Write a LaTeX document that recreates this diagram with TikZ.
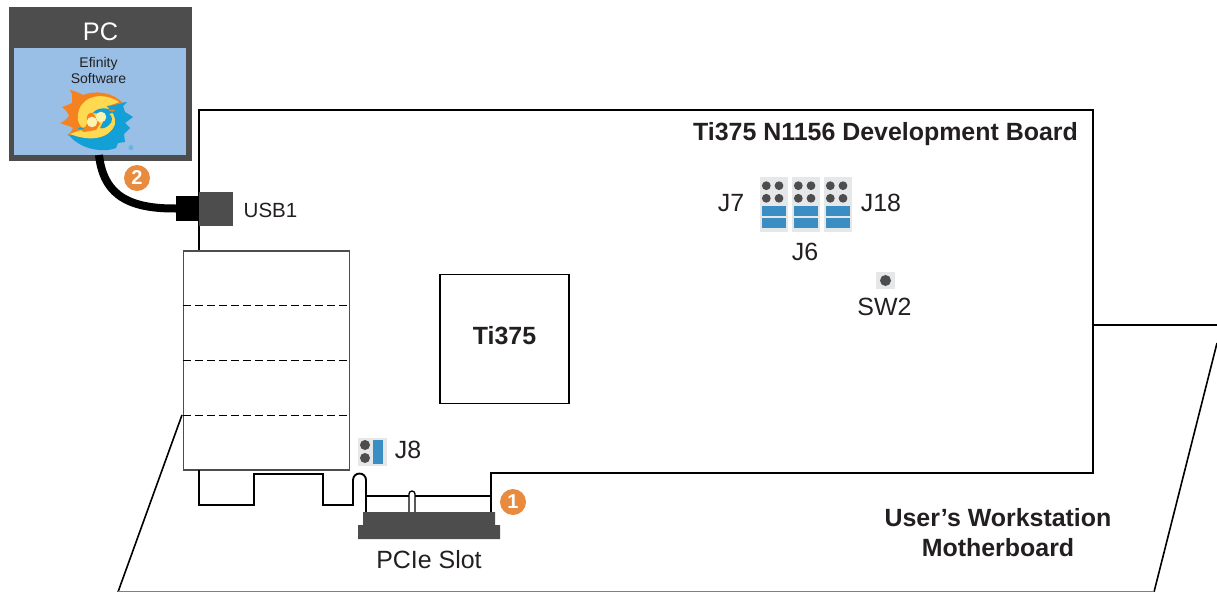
\documentclass[tikz,border=0pt]{standalone}
\usepackage{fontspec}
\setmainfont{Liberation Sans}
\definecolor{darkg}{HTML}{4D4D4D}
\definecolor{pcblue}{HTML}{99BFE6}
\definecolor{jblue}{HTML}{3A8EC4}
\definecolor{jbg}{HTML}{E6E7E8}
\definecolor{badge}{HTML}{E98B3F}
\definecolor{txt}{HTML}{231F20}
\definecolor{logoO}{HTML}{F58220}
\definecolor{logoB}{HTML}{12A0D7}
\definecolor{logoY}{HTML}{FFD94F}
\definecolor{logoP}{HTML}{FBF3B0}
\tikzset{
  x=0.75pt,y=-0.75pt,
  every node/.style={inner sep=0pt,outer sep=0pt,text=txt},
  pin/.style={circle,fill=darkg,minimum size=7.5pt},
  smallpin/.style={circle,fill=darkg,minimum size=6.6pt},
  jump/.style={fill=jblue,minimum width=18pt,minimum height=7.5pt},
  hdr/.style={fill=jbg,minimum width=21pt,minimum height=41.25pt},
  lab/.style={font=\fontsize{18.7}{20}\selectfont},
  blab/.style={font=\fontsize{18.7}{20}\selectfont\bfseries},
  num/.style={circle,fill=badge,minimum size=19.5pt,text=white,font=\fontsize{15}{15}\selectfont\bfseries},
  brd/.style={draw=black,line width=1.4pt,line join=miter},
  thin/.style={draw=black,line width=1pt},
}
\begin{document}
\begin{tikzpicture}
\useasboundingbox (0,0) rectangle (1217,592);
% motherboard
\coordinate (mbTL) at (182,415);
\coordinate (mbBL) at (118,592);
\coordinate (mbBR) at (1154,592);
\coordinate (mbTR) at (1217,343);
\coordinate (edgeA) at (1093,325);
\coordinate (edgeB) at (1217,325);
\draw[line width=1.2pt] (mbTL) -- (mbBL);
\draw[line width=1.2pt] (mbTR) -- (mbBR);
\draw[draw=gray,line width=1pt] (mbBL) -- (mbBR);
\draw[line width=1.2pt] (edgeA) -- (edgeB);
% board outline
\draw[brd] (199,252) -- (199,110) -- (1093,110) -- (1093,473) -- (491,473) -- (491,513);
% bracket
\node[draw=darkg,line width=0.8pt,fill=white,minimum width=125pt,minimum height=164.25pt] (bracket) at (266.5,360.5) {};
\draw[dash pattern=on 6pt off 3pt,line width=0.5pt] (183,305) -- (350,305) (183,360) -- (350,360) (183,415) -- (350,415);
% edge connector
\draw[brd] (199,470) -- (199,505) -- (254,505) -- (254,474) -- (323,474) -- (323,505) -- (353,505) -- (353,480) arc[start angle=180,end angle=360,radius=6.5] -- (366,513);
\draw[thin] (366,496) -- (491,496);
\draw[thin,fill=white] (409,513) -- (409,494) arc[start angle=180,end angle=360,radius=3] -- (415,513);
% slot
\fill[darkg] (363,512) -- (495,512) -- (495,525) -- (500,525) -- (500,539) -- (358,539) -- (358,525) -- (363,525) -- cycle;
\node[lab] (slot) at (429,560) {PCIe Slot};
% PC
\node[fill=darkg,minimum width=137.25pt,minimum height=115.5pt] (pc) at (100.5,84) {};
\node[fill=pcblue,minimum width=129pt,minimum height=80.25pt] (sw) at (100,101.5) {};
\node[text=white,font=\fontsize{19}{20}\selectfont] (pclab) at (100.5,31.5) {PC};
\node[align=center,font=\fontsize{10.5}{12.6}\selectfont] (swlab) at (98.5,70.5) {Efinity\\Software};
% logo
\fill[logoB] (68,134) .. controls (80,150) and (104,153) .. (116,148) -- (118,143) -- (125,142) -- (124,134) -- (130,128) -- (125,123) -- (133,117) -- (125,112) -- (123,106) -- (127,102) -- (112,104) -- (98,112) -- (92,128) -- cycle;
\fill[logoO] (123,103) .. controls (112,92) and (96,90) .. (83,95) .. controls (80,93) and (72,90) .. (70,90) .. controls (73,94) and (72,99) .. (72,103) .. controls (68,105) and (65,106) .. (62,107) .. controls (66,110) and (68,113) .. (69,116) .. controls (66,120) and (63,122) .. (60,123) .. controls (65,125) and (70,126) .. (73,128) .. controls (72,131) and (70,134) .. (67,136) -- (78,134) -- (94,128) -- (100,108) -- cycle;
\fill[logoY] (119,102) .. controls (104,92) and (84,95) .. (79,110) .. controls (76,120) and (79,126) .. (84,129) -- (70,134) .. controls (90,142) and (110,139) .. (115,124) .. controls (116,117) and (112,110) .. (106,106) .. controls (111,105) and (115,104) .. (119,102) -- cycle;
\fill[logoO] (79,129) .. controls (84,129) and (88,126) .. (87,120) .. controls (86,115) and (89,112) .. (93,113) -- (100,124) -- (96,130) -- (84,132) -- cycle;
\fill[logoB] (93,113) .. controls (97,107) and (108,107) .. (116,112) -- (109,114) .. controls (113,116) and (113,122) .. (109,125) .. controls (106,128) and (102,129) .. (100,128) -- (103,122) -- (100,114) -- cycle;
\fill[logoP] (92,122) circle[radius=5.3];
\fill[logoP] (101,117) circle[radius=5.3];
\fill[logoO] (112,110.5) ellipse[x radius=3,y radius=1];
\fill[logoB] (81,128.5) ellipse[x radius=3,y radius=1];
\node[text=logoB,font=\fontsize{5}{5}\selectfont] (reg) at (131,148) {®};
% USB
\node[fill=black,minimum width=17.25pt,minimum height=19pt] (plug) at (187.5,208.5) {};
\node[fill=darkg,minimum width=25.5pt,minimum height=25.5pt] (usb) at (216,209) {};
\node[font=\fontsize{15.4}{16}\selectfont] (usblab) at (270.5,210) {USB1};
\coordinate (cab) at (99,155);
\draw[line width=6pt] (cab) .. controls (103,190) and (122,209) .. (plug.west);
\node[num] (b2) at (137,178) {2};
\node[num] (b1) at (513,502) {1};
% title etc
\node[blab] (title) at (885.5,134) {Ti375 N1156 Development Board};
\node[blab] (wa) at (998,518) {User’s Workstation};
\node[blab] (wb) at (998,548) {Motherboard};
% FPGA
\node[draw=black,line width=1.1pt,minimum width=97pt,minimum height=96.5pt] (fpga) at (504.5,339) {};
\node[blab] (fpgalab) at (504.5,336) {Ti375};
% J8
\node[fill=jbg,minimum width=21.75pt,minimum height=21pt] (j8) at (372.5,452) {};
\node[pin] (j8a) at (365,445) {};
\node[pin] (j8b) at (365,458) {};
\node[fill=jblue,minimum width=7.5pt,minimum height=18pt] (j8c) at (378,452) {};
\node[lab] (j8l) at (408,450) {J8};
% headers
\foreach \x/\n in {774/a,806/b,838/c}{
  \node[hdr] (h\n) at (\x,204.5) {};
  \node[smallpin] at (\x-7.7,185.7) {};
  \node[smallpin] at (\x+5,185.7) {};
  \node[smallpin] at (\x-7.7,198.3) {};
  \node[smallpin] at (\x+5,198.3) {};
  \node[jump] at (\x,211) {};
  \node[jump] at (\x,223) {};
}
\node[lab] (j7) at (731,203) {J7};
\node[lab] (j18) at (881,203) {J18};
\node[lab] (j6) at (805,252) {J6};
\node[fill=jbg,minimum width=14.25pt,minimum height=12.75pt] (sw2b) at (885.5,280.5) {};
\node[circle,fill=darkg,minimum size=8.25pt] (sw2d) at (885.5,280.5) {};
\node[lab] (sw2) at (884.5,307) {SW2};
\end{tikzpicture}
\end{document}
